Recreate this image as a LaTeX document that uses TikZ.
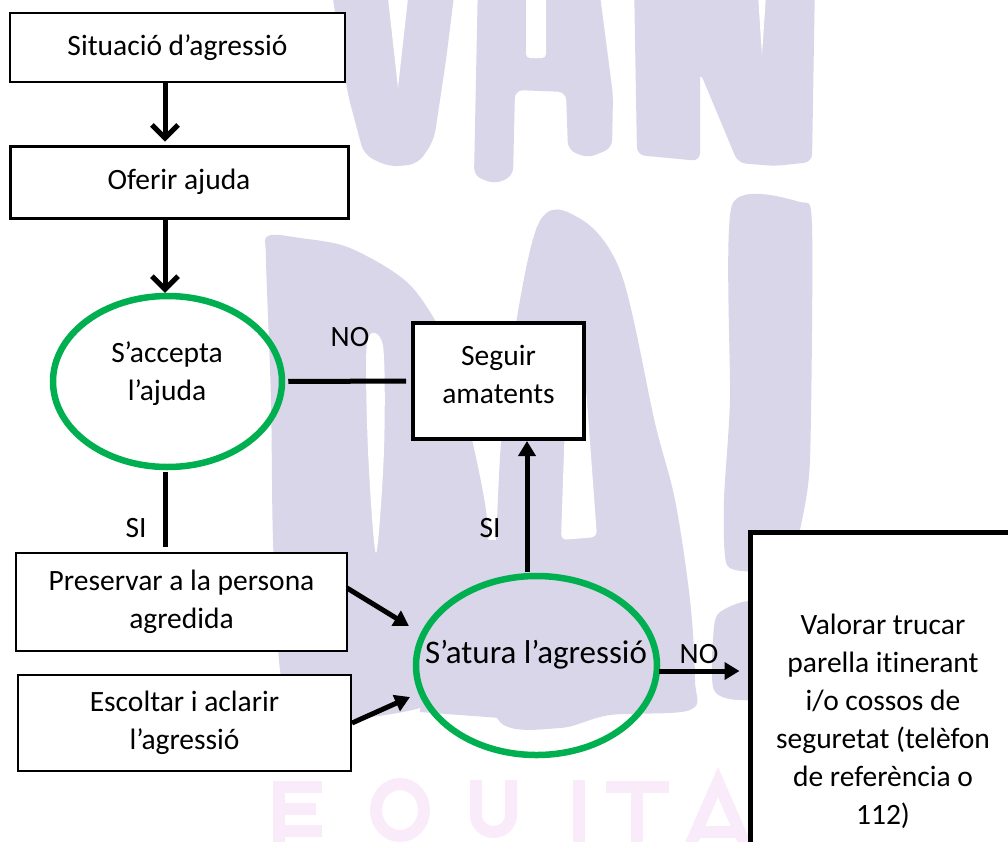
\documentclass[tikz,border=0pt]{standalone}
\usepackage{fontspec}
\setmainfont{Carlito}[Ligatures=NoCommon]
\usetikzlibrary{shapes.geometric,arrows.meta}
\definecolor{wm}{RGB}{216,214,232}
\definecolor{wmpink}{RGB}{250,235,250}
\definecolor{grn}{RGB}{0,176,80}
\begin{document}
\begin{tikzpicture}[x=1pt,y=-1pt,
  font=\fontsize{29.5}{38}\selectfont,
  box/.style={draw, fill=white, inner sep=0pt, align=center},
  oval/.style={ellipse, draw=grn, line width=6.5pt, inner sep=0pt, align=center},
  lbl/.style={inner sep=0pt},
  plain/.style={line width=5pt},
  barb/.style={line width=5pt, -{Straight Barb[length=13pt,width=26pt]}},
  tri/.style={line width=5pt, -{Triangle[length=15pt,width=17pt]}},
  wmstroke/.style={draw=wmpink, line width=12pt}
]
\useasboundingbox (0,0) rectangle (1008,841);
\clip (0,0) rectangle (1008,841);
\fill[white] (0,0) rectangle (1008,841);

% ---- watermark: WAN ----
\fill[wm, rounded corners=10pt] (330,-20) -- (348,95) -- (364,155) -- (390,167) -- (418,164) -- (434,140) -- (446,60) -- (456,-20) -- cycle;
\fill[white] (386,-20) -- (398,88) -- (410,-20) -- cycle;
\fill[wm, rounded corners=8pt] (478,-20) -- (474,176) -- (495,184) -- (513,176) -- (515,90) -- (566,92) -- (568,150) -- (588,158) -- (612,148) -- (613,95) -- (598,-20) -- cycle;
\fill[white, rounded corners=4pt] (526,-20) rectangle (546,58);
\fill[wm, rounded corners=8pt] (634,-20) -- (637,155) -- (700,161) -- (700,72) -- (738,163) -- (775,166) -- (812,162) -- (815,-20) -- cycle;
\fill[white] (757,-20) -- (762,55) -- (767,-20) -- cycle;
% ---- watermark: DAL ----
\fill[wm] plot[smooth cycle, tension=0.5] coordinates {(268,236) (300,238) (350,248) (410,285) (450,350) (470,430) (488,530) (480,630) (440,700) (342,720) (295,712) (280,670) (273,540) (271,400) (266,260)};
\fill[white] plot[smooth cycle, tension=0.5] coordinates {(367,342) (383,346) (384,450) (376,553) (368,450)};
\fill[wm] plot[smooth cycle, tension=0.55] coordinates {(537,227) (579,218) (621,273) (655,423) (675,500) (690,600) (695,680) (690,710) (610,715) (560,728) (500,722) (488,650) (495,560) (505,400)};
\fill[white, rounded corners=6pt] (566,392) -- (586,388) -- (597,537) -- (561,540) -- cycle;
\fill[wm] (440,540) -- (500,540) -- (500,718) -- (420,712) -- cycle;
\fill[wm] plot[smooth cycle, tension=0.4] coordinates {(732,205) (800,202) (812,225) (810,460) (800,530) (790,575) (760,572) (727,565) (724,500) (730,400)};
\fill[wm] plot[smooth cycle, tension=0.5] coordinates {(720,612) (760,605) (765,690) (740,700) (714,690) (713,640)};
% ---- watermark: EQUITA ----
\draw[wmstroke] (279,860) -- (279,787) -- (322,787) (279,809) -- (316,809) (279,831) -- (322,831);
\draw[wmstroke] (400,810) ellipse [x radius=24, y radius=26];
\draw[wmstroke] (476,780) -- (476,815) arc[start angle=180, end angle=360, x radius=17.5, y radius=-17] -- (511,780);
\draw[wmstroke] (579,780) -- (579,860);
\draw[wmstroke] (606,787) -- (669,787) (637,787) -- (637,860);
\draw[wmstroke] (684,860) -- (718,782) -- (752,860) (698,832) -- (738,832);

% ---- nodes ----
\node[box, line width=1.5pt, minimum width=335pt, minimum height=69pt] (sit) at (177.5,47.5) {Situació d’agressió};
\node[box, line width=3pt, minimum width=338pt, minimum height=72pt] (ofe) at (179,182) {Oferir ajuda};
\node[oval, minimum width=229pt, minimum height=171pt] (acc) at (167.5,381.5) {};
\node[lbl, align=center] (acct) at (167,374) {S’accepta\\l’ajuda};
\node[box, line width=4pt, minimum width=171pt, minimum height=116pt] (seg) at (498.5,381) {};
\node[lbl, align=center] (segt) at (498.5,374) {Seguir\\amatents};
\node[box, line width=1.5pt, minimum width=331pt, minimum height=98pt] (pre) at (181.5,602) {Preservar a la persona\\agredida};
\node[box, line width=1.5pt, minimum width=333pt, minimum height=96pt] (esc) at (184.5,723) {Escoltar i aclarir\\l’agressió};
\node[oval, minimum width=241pt, minimum height=179pt] (atu) at (536.5,665.5) {};
\node[lbl, font=\fontsize{33}{40}\selectfont] (atut) at (536,655) {S’atura l’agressió};
\node[box, line width=5pt, minimum width=280pt, minimum height=330pt] (val) at (890,697) {};
\node[lbl, align=center] (valt) at (883,721) {Valorar trucar\\parella itinerant\\i/o cossos de\\seguretat (telèfon\\de referència o\\112)};

\node[lbl] (no1) at (350,337) {NO};
\node[lbl] (si1) at (136,528) {SI};
\node[lbl] (si2) at (490,528) {SI};
\node[lbl] (no2) at (699,654) {NO};

\coordinate (c1) at (165,0);
\coordinate (s2) at (527,572);
\coordinate (p1) at (347,588);
\coordinate (p2) at (409,626);
\coordinate (q1) at (352,723);
\coordinate (q2) at (410,697);
\coordinate (n2) at (659,671);

% ---- connectors ----
\draw[barb, shorten >=3pt] (sit.south -| c1) -- (ofe.north -| c1);
\draw[barb] (ofe.south -| c1) -- (acc.north -| c1);
\draw[plain, shorten <=3pt, shorten >=5pt] (acc.east) -- (seg.west);
\draw[plain, shorten <=2pt, shorten >=5pt] (acc.south -| c1) -- (pre.north -| c1);
\draw[tri] (s2) -- (s2 |- seg.south);
\draw[tri] (p1) -- (p2);
\draw[tri] (q1) -- (q2);
\draw[tri, shorten >=8pt] (n2) -- (n2 -| val.west);
\end{tikzpicture}
\end{document}
